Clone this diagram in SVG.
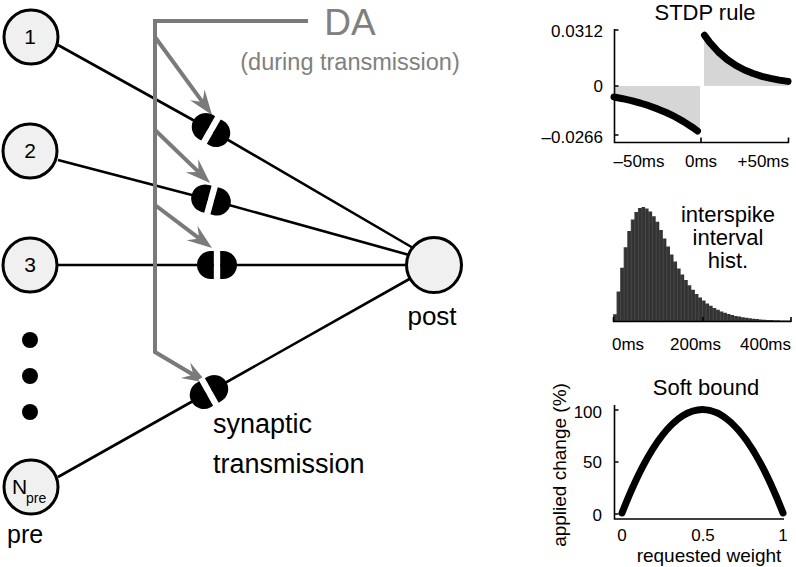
<svg xmlns="http://www.w3.org/2000/svg" width="796" height="567" viewBox="0 0 796 567">
<style>
text{font-family:"Liberation Sans",Arial,Helvetica,sans-serif;fill:#000}
.nd{fill:#f0f0f0;stroke:#000;stroke-width:3}
.nl{font-size:21px;text-anchor:middle}
.conn{stroke:#000;stroke-width:2.6;fill:none;stroke-linejoin:round}
.da{stroke:#7a7a7a;stroke-width:4;fill:none;stroke-linejoin:miter}
.gt{fill:#808080}
.ax{stroke:#000;stroke-width:1.6;fill:none}
.tk{font-size:17px}
.ttl{font-size:22px;text-anchor:middle}
.cv{stroke:#000;stroke-width:7;fill:none;stroke-linecap:round;stroke-linejoin:round}
.sh{fill:#d6d6d6}
</style>
<defs>
<marker id="ah" markerUnits="userSpaceOnUse" orient="auto" refX="0" refY="0" markerWidth="40" markerHeight="40" viewBox="-20 -20 40 40" overflow="visible">
<path d="M16,0 L-9,-9 L0,0 L-9,9 Z" fill="#7a7a7a"/>
</marker>
<g id="synshape">
<rect x="-3.2" y="-16" width="6.4" height="32" fill="#fff"/>
<path d="M-3.2,-14 H-6 A14,14 0 0 0 -6,14 H-3.2 Z" fill="#000"/>
<path d="M3.2,-14 H6 A14,14 0 0 1 6,14 H3.2 Z" fill="#000"/>
</g>
<pattern id="bars" x="613" y="0" width="3.56" height="20" patternUnits="userSpaceOnUse">
<rect width="3.56" height="20" fill="#333"/>
<rect width="0.5" height="20" fill="#5a5a5a"/>
</pattern>
</defs>

<g id="connectors">
<polyline class="conn" points="58,45 211,130 420,252"/>
<polyline class="conn" points="58,160 211,200 420,258"/>
<polyline class="conn" points="57,265 217,265 420,265"/>
<polyline class="conn" points="58,477 209,392 420,273"/>
<path class="da" d="M308,21 H155 V352 L193.3,374.8" marker-end="url(#ah)"/>
<path class="da" d="M155,37 L202.6,102.1" marker-end="url(#ah)"/>
<path class="da" d="M155,130 L198.5,171.9" marker-end="url(#ah)"/>
<path class="da" d="M155,205 L199.2,238.4" marker-end="url(#ah)"/>
</g>

<g id="syn1"><use href="#synshape" transform="translate(211,130) rotate(29.6)"/></g>
<g id="syn2"><use href="#synshape" transform="translate(211,200) rotate(15.3)"/></g>
<g id="syn3"><use href="#synshape" transform="translate(217,265)"/></g>
<g id="syn4"><use href="#synshape" transform="translate(209,392) rotate(-29.4)"/></g>

<g id="pre1"><circle class="nd" cx="31" cy="37" r="27"/><text class="nl" x="30" y="44">1</text></g>
<g id="pre2"><circle class="nd" cx="30" cy="151" r="27"/><text class="nl" x="30" y="158">2</text></g>
<g id="pre3"><circle class="nd" cx="30" cy="265" r="27"/><text class="nl" x="30" y="272">3</text></g>
<g id="dots"><circle cx="30" cy="340" r="8"/><circle cx="30" cy="376" r="8"/><circle cx="30" cy="412" r="8"/></g>
<g id="preN"><circle class="nd" cx="31" cy="487" r="27"/><text x="12" y="494" font-size="21">N</text><text x="26" y="503" font-size="14">pre</text></g>
<g id="post"><circle class="nd" cx="434" cy="265" r="27.5"/><text x="432" y="325" font-size="26" text-anchor="middle">post</text></g>

<text x="7" y="543" font-size="25">pre</text>
<text x="213" y="433" font-size="27">synaptic</text>
<text x="213" y="473" font-size="27">transmission</text>
<text class="gt" x="350" y="35" font-size="37" text-anchor="middle">DA</text>
<text class="gt" x="350" y="70" font-size="23.5" text-anchor="middle">(during transmission)</text>

<g id="stdp">
<text class="ttl" x="705" y="20">STDP rule</text>
<path class="sh" d="M614,86 V97 L622.7,98.7 L631.4,100.7 L640.1,103 L648.8,105.7 L657.5,108.9 L666.2,112.5 L674.9,116.7 L683.6,121.6 L692.3,127.2 L697.5,131 L700,132.5 V86 Z"/>
<path class="sh" d="M704,86 V34 L709.7,42.4 L718.4,52 L727.1,59.5 L735.8,65.4 L744.5,70 L753.2,73.5 L761.9,76.3 L770.6,78.4 L779.3,80.1 L788,81.4 V86 Z"/>
<polyline class="cv" points="614,97 622.7,98.7 631.4,100.7 640.1,103 648.8,105.7 657.5,108.9 666.2,112.5 674.9,116.7 683.6,121.6 692.3,127.2 697.5,131"/>
<polyline class="cv" points="704.5,35.3 709.7,42.4 718.4,52 727.1,59.5 735.8,65.4 744.5,70 753.2,73.5 761.9,76.3 770.6,78.4 779.3,80.1 788,81.4"/>
<path class="ax" d="M614.5,29 V142.5 H789 M614.5,30 H618.5 M614.5,86 H618.5 M614.5,135 H618.5 M701,142.5 V137.5 M788.5,142.5 V137.5"/>
<text class="tk" x="603" y="37" text-anchor="end">0.0312</text>
<text class="tk" x="603" y="92" text-anchor="end">0</text>
<text class="tk" x="603" y="143" text-anchor="end">–0.0266</text>
<text class="tk" x="639" y="167" text-anchor="middle">–50ms</text>
<text class="tk" x="701" y="167" text-anchor="middle">0ms</text>
<text class="tk" x="789" y="167" text-anchor="end">+50ms</text>
</g>

<g id="isi">
<path fill="url(#bars)" d="M613,321 V314.2 H616.56 V291.4 H620.12 V267.8 H623.68 V247.3 H627.24 V231.1 H630.8 V219.5 H634.36 V212 H637.92 V208 H641.48 V207 H645.04 V208.4 H648.6 V211.6 H652.16 V216.2 H655.72 V221.7 H659.28 V230.1 H662.84 V238.4 H666.4 V246.6 H669.96 V254.4 H673.52 V261.6 H677.08 V268.4 H680.64 V274.6 H684.2 V280.1 H687.76 V285.2 H691.32 V289.8 H694.88 V293.9 H698.44 V297.4 H702 V300.6 H705.56 V303.4 H709.12 V305.8 H712.68 V307.9 H716.24 V309.8 H719.8 V311.4 H723.36 V312.7 H726.92 V314 H730.48 V315 H734.04 V315.9 H737.6 V316.6 H741.16 V317.3 H744.72 V317.8 H748.28 V318.3 H751.84 V318.8 H755.4 V319.1 H758.96 V319.4 H762.52 V319.7 H766.08 V319.9 H769.64 V320 H773.2 V320.2 H776.76 V320.3 H780.32 V320.4 H783.88 V320.5 H787.44 V320.6 H791 V321 Z"/>
<path class="ax" d="M613,321.5 H791.5 M613.5,322 V317 M703,322 V317 M791,322 V317"/>
<text class="ttl" x="728" y="222">interspike</text>
<text class="ttl" x="728" y="245">interval</text>
<text class="ttl" x="728" y="268">hist.</text>
<text class="tk" x="612" y="350" font-size="17.5">0ms</text>
<text class="tk" x="695.5" y="350" text-anchor="middle" font-size="17.5">200ms</text>
<text class="tk" x="791" y="350" text-anchor="end" font-size="17.5">400ms</text>
</g>

<g id="softbound">
<text class="ttl" x="706" y="395" font-size="23">Soft bound</text>
<path class="cv" d="M622,513 Q702.5,306 783,513"/>
<path class="ax" d="M614.5,405 V519 H784 M614.5,410 H618.5 M614.5,462 H618.5 M614.5,514 H618.5"/>
<text class="tk" x="602" y="418" text-anchor="end">100</text>
<text class="tk" x="602" y="468" text-anchor="end">50</text>
<text class="tk" x="602" y="521" text-anchor="end">0</text>
<text class="tk" x="622" y="541" text-anchor="middle">0</text>
<text class="tk" x="703" y="541" text-anchor="middle">0.5</text>
<text class="tk" x="783" y="541" text-anchor="middle">1</text>
<text x="709" y="562" font-size="19" text-anchor="middle">requested weight</text>
<text transform="translate(566,465) rotate(-90)" font-size="19" text-anchor="middle">applied change (%)</text>
</g>
</svg>
